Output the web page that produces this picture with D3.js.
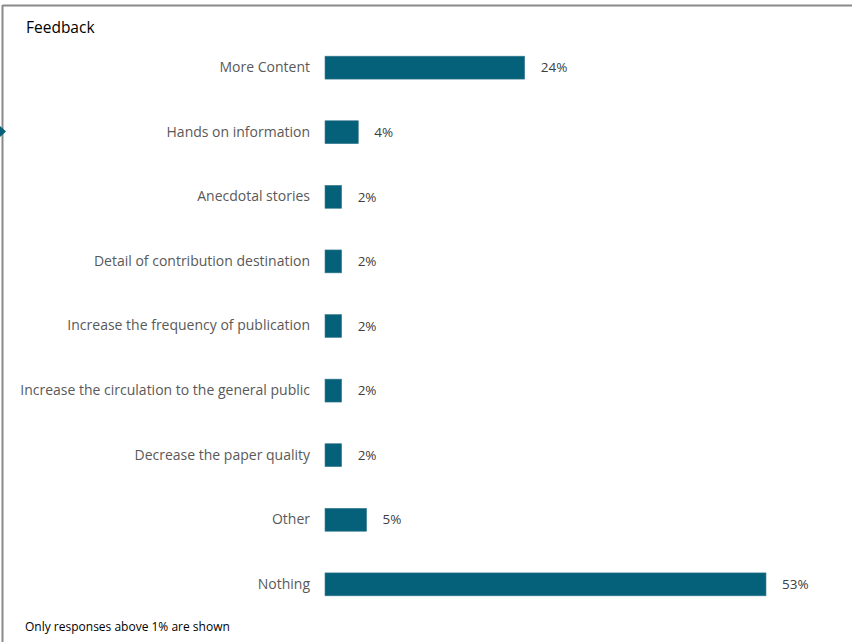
<!DOCTYPE html>
<html>
<head>
<meta charset="utf-8">
<script src="https://cdn.jsdelivr.net/npm/d3@7"></script>
<style>
  html, body { margin: 0; padding: 0; background: #fff; }
  svg { display: block; }
  text { font-family: "Open Sans", "Noto Sans", sans-serif; }
</style>
</head>
<body>
<svg id="chart" width="852" height="642"></svg>
<script>
// Feedback responses (percent of respondents)
const categories = [
  "More Content",
  "Hands on information",
  "Anecdotal stories",
  "Detail of contribution destination",
  "Increase the frequency of publication",
  "Increase the circulation to the general public",
  "Decrease the paper quality",
  "Other",
  "Nothing"
];
const values = [24, 4, 2, 2, 2, 2, 2, 5, 53];
const valueLabels = ["24%", "4%", "2%", "2%", "2%", "2%", "2%", "5%", "53%"];

const svg = d3.select("#chart");
const W = 852, H = 642;

// frame lines (top and left)
svg.append("line").attr("x1", 2.5).attr("x2", W).attr("y1", 5.5).attr("y2", 5.5)
  .attr("stroke", "#8a8a8a").attr("stroke-width", 2);
svg.append("line").attr("x1", 2.5).attr("x2", 2.5).attr("y1", 5).attr("y2", H)
  .attr("stroke", "#8a8a8a").attr("stroke-width", 2);

// small marker on the left edge
svg.append("path").attr("d", "M0,126 L6,131.5 L0,137 Z").attr("fill", "#05607a");

const x = d3.scaleLinear().domain([0, 53]).range([325, 766]);
const y = d3.scaleBand().domain(categories).range([35.5, 616.5]).paddingInner(0.645).paddingOuter(0.32);

const g = svg.append("g");

g.selectAll("rect.bar").data(categories).join("rect")
  .attr("class", "bar")
  .attr("x", x(0))
  .attr("y", d => y(d))
  .attr("width", (d, i) => x(values[i]) - x(0))
  .attr("height", y.bandwidth())
  .attr("fill", "#05607a")
  .attr("stroke", "#3f7f93")
  .attr("stroke-width", 0.6);

// category labels via a left axis without lines
const axis = d3.axisLeft(y).tickSize(0).tickPadding(15);
const ag = svg.append("g").attr("transform", `translate(${x(0)},0)`).call(axis);
ag.select(".domain").remove();
ag.selectAll("text")
  .attr("font-family", "Open Sans, sans-serif")
  .attr("font-size", 14)
  .attr("fill", "#595959");

// value labels
g.selectAll("text.val").data(categories).join("text")
  .attr("class", "val")
  .attr("x", (d, i) => x(values[i]) + 16)
  .attr("y", d => y(d) + y.bandwidth() / 2)
  .attr("dy", "0.35em")
  .attr("font-size", 13.5)
  .attr("fill", "#404040")
  .text((d, i) => valueLabels[i]);

svg.append("text").attr("x", 26).attr("y", 33)
  .attr("font-size", 15.5).attr("fill", "#000").text("Feedback");

svg.append("text").attr("x", 25).attr("y", 631)
  .attr("font-size", 12).attr("fill", "#000").text("Only responses above 1% are shown");
</script>
</body>
</html>
